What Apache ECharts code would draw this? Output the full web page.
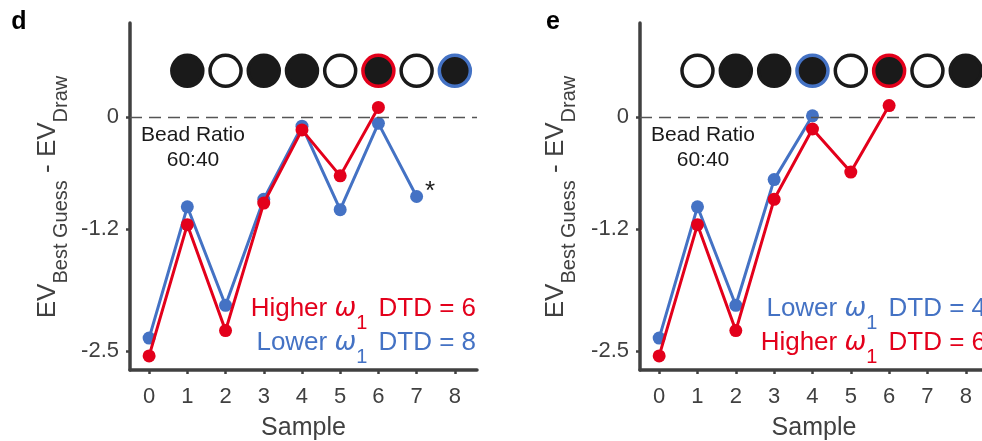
<!DOCTYPE html>
<html>
<head>
<meta charset="utf-8">
<script src="https://cdn.jsdelivr.net/npm/echarts@6/dist/echarts.min.js"></script>
<style>html,body{margin:0;background:#fff}#main{width:982px;height:441px}</style>
</head>
<body>
<div id="main"></div>
<script>
var samples = [0, 1, 2, 3, 4, 5, 6, 7, 8];
var yTicks = [-2.5, -1.2, 0];
var yTickLabels = ['-2.5', '-1.2', '0'];
var beadY = 0.49;

// panel d
var dLower = [-2.36, -0.96, -2.01, -0.88, -0.10, -0.99, -0.07, -0.85];
var dHigher = [-2.55, -1.15, -2.28, -0.92, -0.14, -0.63, 0.10];
var dBeads = [1, 0, 1, 1, 0, 1, 0, 1];
var dLowerDTD = 8, dHigherDTD = 6;

// panel e
var eLower = [-2.36, -0.96, -2.01, -0.67, 0.01];
var eHigher = [-2.55, -1.15, -2.28, -0.88, -0.13, -0.59, 0.12];
var eBeads = [0, 1, 1, 1, 0, 1, 0, 1];
var eLowerDTD = 4, eHigherDTD = 6;

var BLUE = '#4472c4', RED = '#e3001b', GREY = '#404040', INK = '#1a1a1a';
var FONT = '"Liberation Sans", Arial, sans-serif';

var myChart = echarts.init(document.getElementById('main'));

function pts(arr){
	return arr.map(function(v, i){ return [samples[i], v]; });
}
function beadData(beads, lowDTD, highDTD){
	return beads.map(function(b, i){
		var s = samples[i + 1];
		var border = s == highDTD ? RED : (s == lowDTD ? BLUE : INK);
		return {value: [s, beadY], itemStyle: {color: b ? INK : '#fff', borderColor: border}};
	});
}
function xAx(idx){
	return {
		type: 'value', gridIndex: idx, min: -0.5, max: 8.58,
		axisLine: {onZero: false, lineStyle: {color: GREY, width: 3.5}},
		axisTick: {customValues: samples, length: 4, lineStyle: {color: GREY, width: 2.5}},
		axisLabel: {customValues: samples, fontSize: 22, color: GREY, margin: 16, fontFamily: FONT},
		splitLine: {show: false},
		name: 'Sample', nameLocation: 'middle', nameGap: 46,
		nameTextStyle: {fontSize: 25, color: GREY, fontFamily: FONT}
	};
}
function yAx(idx){
	return {
		type: 'value', gridIndex: idx, min: -2.7, max: 1.0,
		axisLine: {show: true, onZero: false, lineStyle: {color: GREY, width: 3.5}},
		axisTick: {show: true, customValues: yTicks, length: 4, lineStyle: {color: GREY, width: 2.5}},
		axisLabel: {customValues: yTicks, fontSize: 22, color: GREY, margin: 11, fontFamily: FONT,
			formatter: function(v){ return yTickLabels[yTicks.indexOf(v)]; }},
		splitLine: {show: false}
	};
}
function lineSeries(idx, arr, color, z, withZero){
	var s = {
		type: 'line', xAxisIndex: idx, yAxisIndex: idx, data: pts(arr),
		symbol: 'circle', symbolSize: 13, z: z,
		itemStyle: {color: color, opacity: 1}, lineStyle: {color: color, width: 3},
		silent: true
	};
	if (withZero) {
		s.markLine = {
			silent: true, symbol: ['none', 'none'], label: {show: false},
			lineStyle: {type: [12, 7], color: '#555', width: 1.3},
			data: [{yAxis: 0}]
		};
	}
	return s;
}
function beadSeries(idx, beads, lowDTD, highDTD){
	return {
		type: 'scatter', xAxisIndex: idx, yAxisIndex: idx,
		data: beadData(beads, lowDTD, highDTD),
		symbol: 'circle', symbolSize: 31, z: 2,
		itemStyle: {borderWidth: 3.5, opacity: 1}, silent: true
	};
}

var rich = {
	a: {fontSize: 26, fill: GREY, fontFamily: FONT, verticalAlign: 'top'},
	b: {fontSize: 20, fill: GREY, fontFamily: FONT, verticalAlign: 'top', padding: [17, 0, 0, 0]}
};
function legendRich(color){
	return {
		t: {fontSize: 26, fill: color, fontFamily: FONT, verticalAlign: 'top'},
		w: {fontSize: 26, fill: color, fontFamily: 'DejaVu Sans', fontStyle: 'italic', verticalAlign: 'top'},
		s: {fontSize: 20, fill: color, fontFamily: FONT, verticalAlign: 'top', padding: [17, 0, 0, 0]}
	};
}
function legendText(x, top, label, dtd, color){
	return {
		type: 'text', x: x, y: top, silent: true,
		style: {
			text: '{t|' + label + ' }{w|ω}{s|1  }{t|DTD = ' + dtd + '}',
			rich: legendRich(color), align: 'right', verticalAlign: 'top'
		}
	};
}
function panelGraphics(ox, letterX, letter, yNameX, lowTop, highTop, lowDTD, highDTD){
	return [
		{type: 'text', x: letterX, y: 35, silent: true,
			style: {text: letter, font: 'bold 25px ' + FONT, fill: '#000', align: 'center', verticalAlign: 'bottom'}},
		{type: 'text', x: yNameX, y: 197, rotation: Math.PI / 2, silent: true,
			style: {text: '{a|EV}{b|Best Guess}{a| - EV}{b|Draw}', rich: rich, align: 'center', verticalAlign: 'middle'}},
		{type: 'text', x: ox + 193, y: 148, silent: true,
			style: {text: 'Bead Ratio\n60:40', font: '21px ' + FONT, fill: INK, align: 'center', verticalAlign: 'middle', lineHeight: 25}},
		legendText(ox + 476, lowTop, 'Lower', lowDTD, BLUE),
		legendText(ox + 476, highTop, 'Higher', highDTD, RED)
	];
}

var graphics = panelGraphics(0, 19, 'd', 53, 330, 296, dLowerDTD, dHigherDTD)
	.concat(panelGraphics(510, 553, 'e', 561, 296, 330, eLowerDTD, eHigherDTD));
// asterisk next to the last lower-ω1 point in d
graphics.push({type: 'text', x: 430, y: 192, silent: true,
	style: {text: '*', font: '26px ' + FONT, fill: INK, align: 'center', verticalAlign: 'middle'}});

var option = {
	animation: false,
	backgroundColor: '#fff',
	grid: [
		{left: 130, top: 23, width: 347, height: 347, outerBoundsMode: 'none'},
		{left: 640, top: 23, width: 348, height: 347, outerBoundsMode: 'none'}
	],
	xAxis: [xAx(0), xAx(1)],
	yAxis: [yAx(0), yAx(1)],
	series: [
		beadSeries(0, dBeads, dLowerDTD, dHigherDTD),
		lineSeries(0, dLower, BLUE, 3, true),
		lineSeries(0, dHigher, RED, 4, false),
		beadSeries(1, eBeads, eLowerDTD, eHigherDTD),
		lineSeries(1, eLower, BLUE, 3, true),
		lineSeries(1, eHigher, RED, 4, false)
	],
	graphic: graphics
};
myChart.setOption(option);
</script>
</body>
</html>
